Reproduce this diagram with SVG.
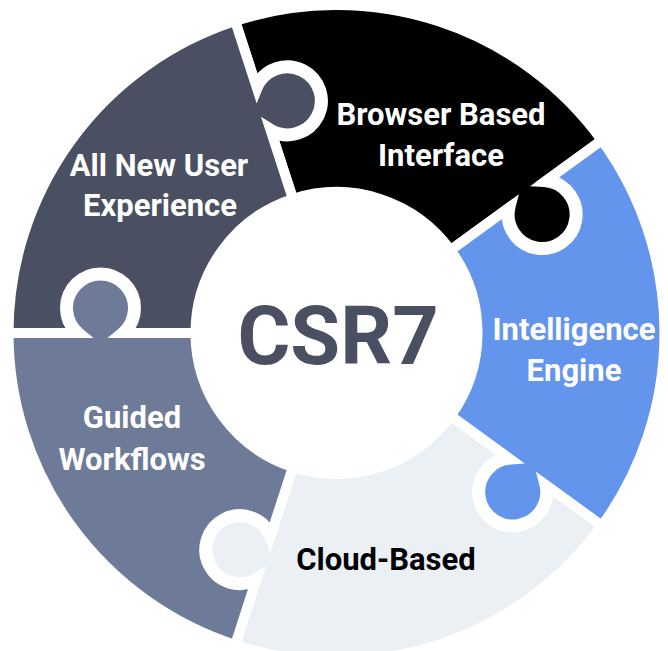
<svg xmlns="http://www.w3.org/2000/svg" width="668" height="651" viewBox="0 0 668 651">
<style>
.pc{stroke:#ffffff;stroke-width:10;stroke-linejoin:miter}
.lbl{font-family:Roboto,"Liberation Sans",Arial,sans-serif;font-weight:700;font-size:31px;text-anchor:middle}
.w{fill:#ffffff}
</style>
<rect width="668" height="651" fill="#ffffff"/>
<g id="piece-browser">
<path class="pc" fill="#000000" d="M235.142,21.053 A328,328 0 0 1 601.857,140.207 L544.231,182.075 A32.5,32.5 0 1 1 510.624,206.491 L450.571,250.122 A141,141 0 0 0 292.929,198.901 L271.359,132.517 A35.5,35.5 0 1 0 255.785,84.584 Z"/>
<text class="lbl w" x="441" y="125">Browser Based</text>
<text class="lbl w" x="441" y="166">Interface</text>
</g>
<g id="piece-intelligence">
<path class="pc" fill="#6495ED" d="M601.857,140.207 A328,328 0 0 1 601.857,525.793 L544.231,483.925 A32.5,32.5 0 1 1 510.624,459.509 L450.571,415.878 A141,141 0 0 0 450.571,250.122 L507.041,209.095 A35.5,35.5 0 1 0 547.815,179.471 Z"/>
<text class="lbl w" x="574" y="340">Intelligence</text>
<text class="lbl w" x="574" y="381">Engine</text>
</g>
<g id="piece-cloud">
<path class="pc" fill="#EBF0F5" d="M601.857,525.793 A328,328 0 0 1 235.142,644.947 L257.154,577.203 A32.5,32.5 0 1 1 269.990,537.696 L292.929,467.099 A141,141 0 0 0 450.571,415.878 L507.041,456.905 A35.5,35.5 0 1 0 547.815,486.529 Z"/>
<text class="lbl" fill="#000000" x="386" y="570">Cloud-Based</text>
</g>
<g id="piece-guided">
<path class="pc" fill="#6E7B98" d="M235.142,644.947 A328,328 0 0 1 8.5,333 L79.73,333 A32.5,32.5 0 1 1 121.27,333 L195.5,333 A141,141 0 0 0 292.929,467.099 L271.359,533.483 A35.5,35.5 0 1 0 255.785,581.416 Z"/>
<text class="lbl w" x="132" y="428">Guided</text>
<text class="lbl w" x="132" y="470">Workflows</text>
</g>
<g id="piece-experience">
<path class="pc" fill="#4A5061" d="M8.5,333 A328,328 0 0 1 235.142,21.053 L257.154,88.797 A32.5,32.5 0 1 1 269.990,128.304 L292.929,198.901 A141,141 0 0 0 195.5,333 L125.7,333 A35.5,35.5 0 1 0 75.3,333 Z"/>
<text class="lbl w" x="159" y="176">All New User</text>
<text class="lbl w" x="160" y="216">Experience</text>
</g>
<g id="center">
<text x="338" y="364" font-family="Roboto,'Liberation Sans',Arial,sans-serif" font-weight="700" font-size="81" text-anchor="middle" fill="#4A5061">CSR7</text>
</g>
<g id="connectors"/>
</svg>
